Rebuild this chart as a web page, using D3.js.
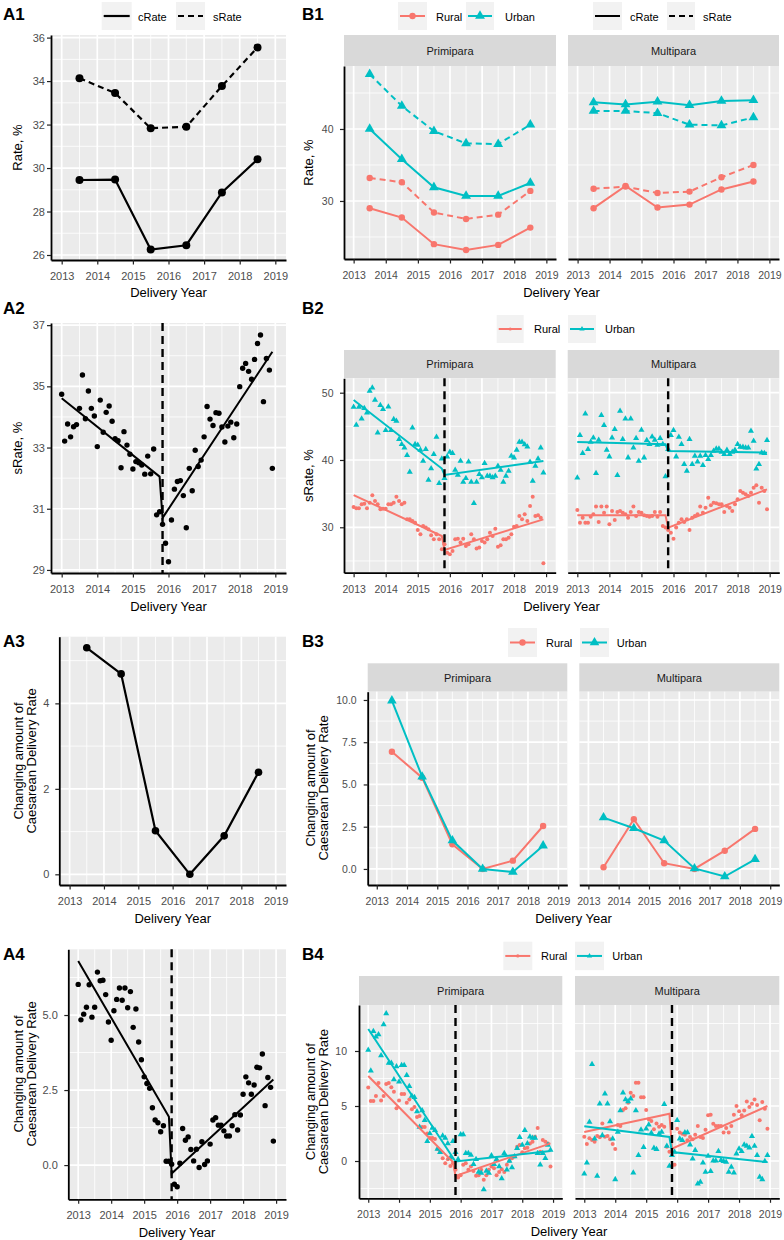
<!DOCTYPE html>
<html><head><meta charset="utf-8">
<script src="https://cdn.jsdelivr.net/npm/d3@7"></script>
<style>body{margin:0;background:#fff;} svg{display:block;}</style>
</head><body><svg id="c" width="784" height="1240"></svg>
<script>
// ---------------- DATA ----------------
const xTickYears = [2013, 2014, 2015, 2016, 2017, 2018, 2019];
const xMinorYears = [2013.5, 2014.5, 2015.5, 2016.5, 2017.5, 2018.5];
const annualYears = [2013.5, 2014.5, 2015.5, 2016.5, 2017.5, 2018.5];
const monthTimes = d3.range(72).map(i => 2013 + i / 12);   // Jan 2013 .. Dec 2018
const policyBreak = 2015.833;
const fitTimes = [2013.0, 2015.75, 2015.833, 2018.917];     // segment start, pre end, post start, end

// A1
const a1_cRate = [29.45, 29.47, 26.25, 26.45, 28.88, 30.40];
const a1_sRate = [34.13, 33.45, 31.83, 31.90, 33.77, 35.55];
// B1
const b1_prim_rural_c = [29.0, 27.7, 24.0, 23.2, 23.9, 26.3];
const b1_prim_rural_s = [33.2, 32.6, 28.4, 27.5, 28.1, 31.4];
const b1_prim_urban_c = [40.0, 35.8, 31.9, 30.7, 30.7, 32.5];
const b1_prim_urban_s = [47.6, 43.2, 39.7, 38.0, 37.9, 40.6];
const b1_multi_rural_c = [29.0, 32.1, 29.1, 29.5, 31.6, 32.7];
const b1_multi_rural_s = [31.7, 32.0, 31.1, 31.3, 33.3, 35.0];
const b1_multi_urban_c = [43.7, 43.4, 43.8, 43.3, 43.9, 44.0];
const b1_multi_urban_s = [42.5, 42.5, 42.2, 40.6, 40.5, 41.6];
// A2 (monthly sRate)
const a2_sRate = [34.74, 33.21, 33.77, 33.35, 33.68, 33.75, 34.28, 35.37, 33.94, 34.85, 34.28, 34.03,
  33.03, 34.55, 33.50, 34.15, 34.36, 33.86, 33.29, 33.22, 32.34, 33.52, 33.08, 32.78,
  32.30, 32.54, 32.50, 32.43, 32.13, 32.72, 32.14, 32.95, 30.80, 30.90, 30.49, 29.87,
  29.27, 30.63, 31.64, 31.89, 31.92, 31.43, 30.38, 32.32, 31.59, 32.91, 32.38, 32.59,
  33.35, 34.34, 33.93, 33.72, 34.14, 34.12, 33.67, 33.18, 33.70, 33.83, 33.32, 33.77,
  34.99, 35.59, 35.75, 35.49, 35.23, 35.88, 36.40, 36.68, 34.50, 35.91, 35.53, 32.32];
const a2_fit = [34.61, 32.05, 30.70, 36.13];
// B2
const b2_prim_urban = [47.88, 45.20, 47.88, 46.14, 47.68, 47.03, 50.25, 50.75, 48.92, 44.06, 48.12, 47.53,
  44.41, 47.92, 44.41, 46.04, 45.80, 43.07, 42.33, 41.83, 40.69, 38.21, 44.80, 42.33,
  42.23, 41.49, 39.85, 41.58, 37.03, 38.73, 40.84, 43.42, 36.53, 40.20, 37.28, 40.50,
  41.19, 41.00, 38.52, 37.77, 39.85, 36.73, 37.28, 39.75, 36.73, 33.56, 36.73, 37.87,
  37.38, 39.50, 37.62, 37.62, 37.38, 37.62, 39.11, 38.52, 36.73, 37.62, 38.36, 40.59,
  40.35, 41.49, 42.67, 42.67, 42.30, 41.98, 39.70, 36.88, 39.10, 40.20, 41.83, 38.12];
const b2_prim_rural = [33.02, 32.82, 32.82, 33.41, 33.51, 32.82, 33.66, 34.75, 33.91, 33.41, 32.67, 32.77,
  32.77, 33.41, 33.41, 33.66, 34.55, 33.91, 33.41, 33.66, 31.18, 31.18, 30.94, 30.69,
  29.60, 28.96, 30.19, 29.95, 29.70, 28.81, 28.21, 28.96, 28.21, 26.73, 27.47, 26.23,
  25.98, 26.48, 28.21, 28.31, 27.72, 28.31, 27.22, 27.47, 28.96, 28.21, 26.83, 26.98,
  27.97, 27.72, 28.21, 29.20, 28.71, 29.80, 27.12, 27.32, 28.21, 28.21, 28.46, 28.96,
  30.09, 30.19, 31.68, 31.18, 31.93, 30.94, 33.17, 34.55, 31.68, 31.78, 31.43, 24.65];
const b2_multi_urban = [37.37, 43.67, 40.99, 46.88, 41.59, 42.67, 43.32, 38.02, 42.97, 46.64, 45.15, 41.49,
  40.50, 43.32, 44.56, 37.72, 47.28, 43.07, 46.14, 40.35, 46.14, 41.83, 43.22, 39.85,
  44.46, 40.35, 42.92, 42.33, 43.47, 42.97, 42.23, 43.22, 42.33, 37.53, 41.59, 43.67,
  44.41, 40.50, 43.42, 42.33, 39.36, 38.37, 43.07, 39.36, 40.59, 39.75, 40.59, 39.21,
  40.69, 40.10, 40.69, 41.34, 41.68, 41.68, 41.19, 40.84, 41.49, 40.84, 41.19, 41.49,
  42.33, 41.93, 41.93, 41.83, 41.83, 44.31, 42.82, 38.71, 39.36, 41.09, 41.00, 42.92];
const b2_multi_rural = [32.57, 30.69, 31.43, 30.69, 30.69, 31.58, 31.93, 33.07, 30.79, 33.07, 32.17, 33.07,
  30.44, 32.42, 31.09, 32.27, 32.42, 32.17, 31.93, 31.43, 32.27, 33.07, 31.68, 32.27,
  32.17, 31.78, 31.68, 31.58, 31.68, 32.27, 31.58, 32.27, 30.19, 29.95, 29.60, 29.20,
  28.31, 29.95, 30.69, 31.18, 30.79, 31.18, 29.60, 31.43, 31.68, 31.93, 33.07, 32.17,
  32.92, 34.40, 33.26, 33.66, 33.56, 33.41, 33.41, 32.27, 33.17, 32.92, 32.42, 33.41,
  34.16, 35.40, 35.15, 34.90, 34.65, 35.15, 35.89, 36.24, 33.66, 35.89, 35.40, 32.67];
const b2_prim_rural_fit = [34.79, 28.70, 26.63, 31.18];
const b2_prim_urban_fit = [48.92, 38.73, 37.77, 39.85];
const b2_multi_rural_fit = [31.78, 31.78, 29.95, 35.64];
const b2_multi_urban_fit = [42.67, 42.33, 41.34, 41.09];
// A3
const a3_change = [5.30, 4.69, 1.02, 0.00, 0.90, 2.39];
// B3
const b3_prim_rural = [6.94, 5.40, 1.46, 0.00, 0.49, 2.54];
const b3_prim_urban = [9.96, 5.46, 1.68, 0.00, -0.18, 1.38];
const b3_multi_rural = [0.10, 2.94, 0.34, 0.00, 1.08, 2.37];
const b3_multi_urban = [3.04, 2.41, 1.68, 0.03, -0.45, 0.57];
// A4 (monthly change)
const a4_change = [6.02, 4.84, 5.03, 5.26, 6.01, 4.93, 5.26, 6.43, 6.14, 6.16, 5.68, 4.77,
  4.16, 5.14, 5.52, 5.90, 5.49, 5.90, 5.24, 5.78, 4.59, 5.20, 4.10, 3.51,
  2.94, 2.72, 2.56, 1.91, 1.50, 1.41, 1.11, 1.31, 0.13, 0.13, 0.03, -0.64,
  -0.72, 0.06, 1.22, 0.83, 0.94, 0.52, 0.14, 0.53, -0.08, 0.78, 0.02, 0.14,
  0.70, 1.50, 1.58, 1.33, 1.33, 1.14, 0.97, 0.97, 1.31, 1.68, 1.17, 1.67,
  2.36, 2.94, 2.74, 2.36, 2.67, 3.26, 3.24, 3.70, 1.98, 2.92, 2.59, 0.80];
const a4_fit = [6.80, 1.61, -0.28, 2.85];
// B4
const b4_prim_urban = [10.1, 8.2, 11.8, 11.3, 11.5, 9.6, 12.4, 13.4, 8.9, 8.9, 7.4, 8.6,
  7.2, 8.7, 8.7, 7.8, 6.8, 5.9, 5.8, 4.5, 3.1, 4.6, 3.7, 1.8,
  2.5, 3.0, 2.8, 1.1, 0.8, 2.3, 2.1, 1.6, 0.3, 1.8, 0.8, 0.15,
  2.4, 2.4, 0.7, 0.7, 0.55, -0.3, 0.15, -1.0, -1.1, -2.6, -0.9, -1.1,
  0.5, -0.3, 0.15, -0.5, -1.6, 0.7, -0.8, 0.0, -0.6, 0.4, 1.15, 2.15,
  1.45, 2.8, 1.6, 2.2, 2.1, 2.1, 0.7, -0.35, 0.7, 0.25, 1.45, 1.0];
const b4_prim_rural = [6.67, 5.45, 5.45, 5.9, 7.1, 5.5, 5.9, 7.0, 7.1, 6.7, 6.3, 4.8,
  5.5, 6.1, 6.1, 5.3, 5.6, 4.7, 4.9, 4.0, 4.1, 3.1, 3.1, 2.5,
  2.1, 2.1, 2.0, 1.1, 0.85, 0.25, -0.2, 0.15, -0.45, -0.2, -0.8, -1.5,
  -1.3, -0.35, -0.2, -0.8, -0.5, -0.9, -1.35, -1.3, -0.8, -1.7, -1.3, -0.8,
  -0.5, -0.65, -1.3, -1.0, -0.75, -1.0, -0.35, 0.0, 0.25, 0.4, 1.3, 1.45,
  0.8, 1.15, 1.2, 1.6, 1.75, 2.2, 3.0, 0.85, 1.9, 1.75, 1.6, -0.5];
const b4_multi_urban = [-1.15, -0.15, 3.55, 8.79, 2.03, -1.36, 5.21, 2.33, 6.12, 5.21, 3.6, 2.03,
  -1.67, 2.64, 4.6, 6.21, 5.6, 5.42, 5.67, -1.06, 4.6, 0.52, 2.85, 1.24,
  2.94, 3.3, 2.55, 1.18, 1.06, 2.48, 2.64, 5.15, 1.36, -0.45, 0.52, 0.82,
  3.7, 2.03, 1.88, 2.58, 2.58, 1.48, 0.21, 0.97, -2.06, -1.91, -0.15, -1.0,
  0.45, -0.94, 0.03, 0.03, 0.88, 0.06, -0.03, -0.09, -1.0, -0.55, -1.06, 0.67,
  1.12, 0.88, 1.48, 1.36, 1.2, 2.24, 1.36, 0.52, -1.45, -1.67, -0.03, 0.52];
const b4_multi_rural = [2.2, 1.55, 2.06, 1.9, 1.76, 2.27, 2.15, 3.42, 2.2, 2.27, 1.97, 1.55,
  1.09, 3.27, 3.18, 4.64, 4.79, 5.3, 6.21, 5.9, 7.12, 7.12, 5.79, 5.79,
  4.64, 3.79, 3.64, 2.88, 3.42, 3.12, 3.27, 3.12, 1.3, 0.85, -0.45, -0.33,
  2.94, 2.58, 2.48, 2.39, 1.88, 2.18, 1.97, 2.39, 3.18, 2.18, 2.09, 2.85,
  4.15, 4.21, 3.39, 3.18, 3.18, 3.18, 2.58, 3.0, 2.58, 3.18, 4.21, 5.0,
  4.52, 4.15, 4.6, 5.42, 4.91, 5.2, 5.6, 5.1, 3.7, 5.36, 4.76, 2.94];
const b4_prim_rural_fit = [7.73, -0.10, -1.36, 1.60];
const b4_prim_urban_fit = [12.00, 0.30, -0.05, 0.90];
const b4_multi_rural_fit = [2.64, 4.30, 1.12, 5.00];
const b4_multi_urban_fit = [3.15, 2.18, 0.82, -0.09];

// ---------------- DRAWING ----------------
const FONT = '"Liberation Sans", Arial, Helvetica, sans-serif';
const RURAL = '#F8766D', URBAN = '#00BFC4';
const svg = d3.select('#c').attr('font-family', FONT);

function panel(cfg) {
  const x = d3.scaleLinear().domain([2012.7, 2019.3]).range([cfg.x0, cfg.x1]);
  const y = d3.scaleLinear().domain(cfg.yDom).range([cfg.y1, cfg.y0]);
  const g = svg.append('g');
  g.append('rect').attr('x', cfg.x0).attr('y', cfg.y0).attr('width', cfg.x1 - cfg.x0)
    .attr('height', cfg.y1 - cfg.y0).attr('fill', '#EBEBEB');
  const grid = g.append('g').attr('stroke', '#fff');
  grid.selectAll(null).data(cfg.yMinor).join('line').attr('x1', cfg.x0).attr('x2', cfg.x1)
    .attr('y1', d => y(d)).attr('y2', d => y(d)).attr('stroke-width', 0.8);
  grid.selectAll(null).data(xMinorYears).join('line').attr('y1', cfg.y0).attr('y2', cfg.y1)
    .attr('x1', d => x(d)).attr('x2', d => x(d)).attr('stroke-width', 0.8);
  grid.selectAll(null).data(cfg.yMajor).join('line').attr('x1', cfg.x0).attr('x2', cfg.x1)
    .attr('y1', d => y(d)).attr('y2', d => y(d)).attr('stroke-width', 1.7);
  grid.selectAll(null).data(xTickYears).join('line').attr('y1', cfg.y0).attr('y2', cfg.y1)
    .attr('x1', d => x(d)).attr('x2', d => x(d)).attr('stroke-width', 1.7);
  const fs = cfg.fs || 11;
  const xa = d3.axisBottom(x).tickValues(xTickYears).tickFormat(d3.format('d'))
    .tickSizeInner(4.5).tickSizeOuter(0).tickPadding(20 - 4.5 - 0.71 * fs);
  const gx = g.append('g').attr('transform', `translate(0,${cfg.y1})`).call(xa);
  styleAxis(gx, fs);
  if (cfg.yAxis) {
    const ya = d3.axisLeft(y).tickValues(cfg.yMajor).tickFormat(cfg.yFmt || d3.format('d'))
      .tickSizeInner(4).tickSizeOuter(0).tickPadding((cfg.labGap || 10) - 4);
    const gy = g.append('g').attr('transform', `translate(${cfg.x0},0)`).call(ya);
    styleAxis(gy, fs);
  }
  return { x, y, g, cfg };
}
function styleAxis(sel, fs) {
  sel.attr('font-family', FONT).attr('font-size', fs);
  sel.select('.domain').attr('stroke', '#000').attr('stroke-width', 1.8);
  sel.selectAll('.tick line').attr('stroke', '#222').attr('stroke-width', 1.2);
  sel.selectAll('.tick text').attr('fill', '#4D4D4D');
}
function strip(x0, x1, y0, y1, label) {
  svg.append('rect').attr('x', x0).attr('y', y0).attr('width', x1 - x0).attr('height', y1 - y0).attr('fill', '#D9D9D9');
  svg.append('text').attr('x', (x0 + x1) / 2).attr('y', (y0 + y1) / 2 + 4).attr('text-anchor', 'middle')
    .attr('font-size', 11).attr('fill', '#1A1A1A').text(label);
}
function label(x, y, t) {
  svg.append('text').attr('x', x).attr('y', y).attr('font-size', 17).attr('font-weight', 'bold').attr('fill', '#000').text(t);
}
function xTitle(x, y, t) {
  svg.append('text').attr('x', x).attr('y', y).attr('text-anchor', 'middle').attr('font-size', 13).attr('fill', '#000').text(t);
}
function yTitle(x, y, lines) {
  lines.forEach((t, i) => {
    svg.append('text').attr('transform', `translate(${x + i * 13.4},${y}) rotate(-90)`)
      .attr('text-anchor', 'middle').attr('dominant-baseline', 'central').attr('font-size', 13).attr('fill', '#000').text(t);
  });
}
function triangle(size) { return d3.symbol().type(d3.symbolTriangle).size(size)(); }

function drawAnnual(p, vals, color, dash, shape, size, w) {
  const line = d3.line().x((d, i) => p.x(annualYears[i])).y(d => p.y(d));
  p.g.append('path').attr('d', line(vals)).attr('fill', 'none').attr('stroke', color)
    .attr('stroke-width', w).attr('stroke-dasharray', dash || null);
  drawPoints(p, vals, annualYears, color, shape, size);
}
function drawPoints(p, vals, times, color, shape, size) {
  const gg = p.g.append('g').attr('fill', color);
  if (shape === 'triangle') {
    gg.selectAll('path').data(vals).join('path')
      .attr('transform', (d, i) => `translate(${p.x(times[i])},${p.y(d)})`).attr('d', triangle(size));
  } else {
    gg.selectAll('circle').data(vals).join('circle')
      .attr('cx', (d, i) => p.x(times[i])).attr('cy', d => p.y(d)).attr('r', size);
  }
}
function drawFit(p, vals, color, w) {
  const line = d3.line().x((d, i) => p.x(fitTimes[i])).y(d => p.y(d));
  p.g.append('path').attr('d', line(vals)).attr('fill', 'none').attr('stroke', color).attr('stroke-width', w);
}
function drawVline(p) {
  p.g.append('line').attr('x1', p.x(policyBreak)).attr('x2', p.x(policyBreak))
    .attr('y1', p.cfg.y0).attr('y2', p.cfg.y1).attr('stroke', '#000').attr('stroke-width', 2.4).attr('stroke-dasharray', '8,5');
}
function legendKey(x, y, w, h, color, dash, shape, size, lw) {
  svg.append('rect').attr('x', x).attr('y', y).attr('width', w).attr('height', h).attr('fill', '#F2F2F2');
  svg.append('line').attr('x1', x + 2).attr('x2', x + w - 2).attr('y1', y + h / 2).attr('y2', y + h / 2)
    .attr('stroke', color).attr('stroke-width', lw).attr('stroke-dasharray', dash || null);
  if (shape === 'circle') svg.append('circle').attr('cx', x + w / 2).attr('cy', y + h / 2).attr('r', size).attr('fill', color);
  if (shape === 'triangle') svg.append('path').attr('transform', `translate(${x + w / 2},${y + h / 2})`).attr('d', triangle(size)).attr('fill', color);
}
function legendText(x, y, t) {
  svg.append('text').attr('x', x).attr('y', y + 4).attr('font-size', 11).attr('fill', '#000').text(t);
}

// ===== Row 1 =====
label(3, 20, 'A1'); label(302, 20, 'B1');
legendKey(101.7, 2, 30, 28, '#000', null, null, 0, 2.2); legendText(138, 16.7, 'cRate');
legendKey(176, 2, 29, 28, '#000', '6,4', null, 0, 2.2); legendText(213, 16.7, 'sRate');
const pA1 = panel({ x0: 51, x1: 286, y0: 35, y1: 260, yDom: [25.77, 36.12], yMajor: [26, 28, 30, 32, 34, 36],
  yMinor: [27, 29, 31, 33, 35], yAxis: true, labGap: 6 });
drawAnnual(pA1, a1_cRate, '#000', null, 'circle', 4, 2.2);
drawAnnual(pA1, a1_sRate, '#000', '6,4', 'circle', 4, 2.2);
yTitle(17, 147.5, ['Rate, %']);
xTitle(168.5, 297, 'Delivery Year');

legendKey(398, 2, 29, 28, RURAL, null, 'circle', 3.2, 2); legendText(436, 16.7, 'Rural');
legendKey(466, 2, 28, 28, URBAN, null, 'triangle', 42, 2); legendText(505, 16.7, 'Urban');
legendKey(593, 2, 29, 28, '#000', null, null, 0, 2); legendText(630, 16.7, 'cRate');
legendKey(667, 2, 28, 28, '#000', '6,4', null, 0, 2); legendText(703, 16.7, 'sRate');
strip(344, 556, 35, 66, 'Primipara'); strip(568, 779, 35, 66, 'Multipara');
const b1cfg = { y0: 66, y1: 259, yDom: [21.94, 48.75], yMajor: [30, 40], yMinor: [25, 35, 45], fs: 10.5 };
const pB1a = panel(Object.assign({ x0: 344, x1: 556, yAxis: true, labGap: 10.5 }, b1cfg));
const pB1b = panel(Object.assign({ x0: 568, x1: 779, yAxis: false }, b1cfg));
drawAnnual(pB1a, b1_prim_rural_c, RURAL, null, 'circle', 3.2, 2);
drawAnnual(pB1a, b1_prim_rural_s, RURAL, '6,4', 'circle', 3.2, 2);
drawAnnual(pB1a, b1_prim_urban_c, URBAN, null, 'triangle', 42, 2);
drawAnnual(pB1a, b1_prim_urban_s, URBAN, '6,4', 'triangle', 42, 2);
drawAnnual(pB1b, b1_multi_rural_c, RURAL, null, 'circle', 3.2, 2);
drawAnnual(pB1b, b1_multi_rural_s, RURAL, '6,4', 'circle', 3.2, 2);
drawAnnual(pB1b, b1_multi_urban_c, URBAN, null, 'triangle', 42, 2);
drawAnnual(pB1b, b1_multi_urban_s, URBAN, '6,4', 'triangle', 42, 2);
yTitle(308, 162.5, ['Rate, %']);
xTitle(561.5, 297, 'Delivery Year');

// ===== Row 2 =====
label(3, 313.5, 'A2'); label(302, 313.5, 'B2');
const pA2 = panel({ x0: 51, x1: 286, y0: 323, y1: 573, yDom: [28.90, 37.07], yMajor: [29, 31, 33, 35, 37],
  yMinor: [30, 32, 34, 36], yAxis: true, labGap: 6 });
drawPoints(pA2, a2_sRate, monthTimes, '#000', 'circle', 2.7);
drawFit(pA2, a2_fit, '#000', 2);
drawVline(pA2);
yTitle(17, 448, ['sRate, %']);
xTitle(168.5, 610.5, 'Delivery Year');

legendKey(496.7, 315, 27, 28, RURAL, null, 'circle', 1.6, 2); legendText(534, 329.3, 'Rural');
legendKey(568, 315, 28, 28, URBAN, null, 'triangle', 12, 2); legendText(605, 329.3, 'Urban');
strip(344, 555.7, 350, 378.3, 'Primipara'); strip(567.7, 779.3, 350, 378.3, 'Multipara');
const b2cfg = { y0: 378.3, y1: 572.7, yDom: [23.25, 52.14], yMajor: [30, 40, 50], yMinor: [25, 35, 45], fs: 10.5 };
const pB2a = panel(Object.assign({ x0: 344, x1: 555.7, yAxis: true, labGap: 10.5 }, b2cfg));
const pB2b = panel(Object.assign({ x0: 567.7, x1: 779.3, yAxis: false }, b2cfg));
drawPoints(pB2a, b2_prim_rural, monthTimes, RURAL, 'circle', 2);
drawPoints(pB2a, b2_prim_urban, monthTimes, URBAN, 'triangle', 16);
drawFit(pB2a, b2_prim_rural_fit, RURAL, 2);
drawFit(pB2a, b2_prim_urban_fit, URBAN, 2);
drawVline(pB2a);
drawPoints(pB2b, b2_multi_rural, monthTimes, RURAL, 'circle', 2);
drawPoints(pB2b, b2_multi_urban, monthTimes, URBAN, 'triangle', 16);
drawFit(pB2b, b2_multi_rural_fit, RURAL, 2);
drawFit(pB2b, b2_multi_urban_fit, URBAN, 2);
drawVline(pB2b);
yTitle(308, 475.5, ['sRate, %']);
xTitle(561.5, 610.5, 'Delivery Year');

// ===== Row 3 =====
label(3, 647, 'A3'); label(302, 647, 'B3');
const pA3 = panel({ x0: 59.3, x1: 286, y0: 636.7, y1: 885, yDom: [-0.25, 5.56], yMajor: [0, 2, 4],
  yMinor: [1, 3, 5], yAxis: true, labGap: 10 });
drawAnnual(pA3, a3_change, '#000', null, 'circle', 3.8, 2.2);
yTitle(18.3, 761, ['Changing amount of', 'Caesarean Delivery Rate']);
xTitle(172.7, 923, 'Delivery Year');

legendKey(508, 628, 29, 29, RURAL, null, 'circle', 3.2, 2); legendText(546, 642.7, 'Rural');
legendKey(580, 628, 29, 29, URBAN, null, 'triangle', 40, 2); legendText(616.7, 642.7, 'Urban');
strip(367.7, 567.3, 663.3, 691.7, 'Primipara'); strip(579.3, 779.3, 663.3, 691.7, 'Multipara');
const b3cfg = { y0: 691.7, y1: 885, yDom: [-0.95, 10.49], yMajor: [0, 2.5, 5, 7.5, 10], yMinor: [1.25, 3.75, 6.25, 8.75],
  yFmt: d3.format('.1f'), fs: 10.5 };
const pB3a = panel(Object.assign({ x0: 367.7, x1: 567.3, yAxis: true, labGap: 11 }, b3cfg));
const pB3b = panel(Object.assign({ x0: 579.3, x1: 779.3, yAxis: false }, b3cfg));
drawAnnual(pB3a, b3_prim_rural, RURAL, null, 'circle', 3.2, 2);
drawAnnual(pB3a, b3_prim_urban, URBAN, null, 'triangle', 40, 2);
drawAnnual(pB3b, b3_multi_rural, RURAL, null, 'circle', 3.2, 2);
drawAnnual(pB3b, b3_multi_urban, URBAN, null, 'triangle', 40, 2);
yTitle(310, 788, ['Changing amount of', 'Caesarean Delivery Rate']);
xTitle(573.5, 923, 'Delivery Year');

// ===== Row 4 =====
label(3, 960, 'A4'); label(302, 960, 'B4');
const pA4 = panel({ x0: 68.3, x1: 286, y0: 949.3, y1: 1199.3, yDom: [-1.14, 7.19], yMajor: [0, 2.5, 5],
  yMinor: [1.25, 3.75, 6.25], yFmt: d3.format('.1f'), yAxis: true, labGap: 10.5 });
drawPoints(pA4, a4_change, monthTimes, '#000', 'circle', 2.7);
drawFit(pA4, a4_fit, '#000', 2);
drawVline(pA4);
yTitle(18.3, 1074, ['Changing amount of', 'Caesarean Delivery Rate']);
xTitle(177, 1237, 'Delivery Year');

legendKey(503.3, 941.7, 29, 28.5, RURAL, null, 'circle', 1.6, 2); legendText(541, 955.7, 'Rural');
legendKey(575, 941.7, 29, 28.5, URBAN, null, 'triangle', 12, 2); legendText(612.3, 955.7, 'Urban');
strip(359, 562.3, 976, 1005, 'Primipara'); strip(575, 779.3, 976, 1005, 'Multipara');
const b4cfg = { y0: 1005, y1: 1198.3, yDom: [-3.39, 14.18], yMajor: [0, 5, 10], yMinor: [-2.5, 2.5, 7.5, 12.5], fs: 10.5 };
const pB4a = panel(Object.assign({ x0: 359, x1: 562.3, yAxis: true, labGap: 12 }, b4cfg));
const pB4b = panel(Object.assign({ x0: 575, x1: 779.3, yAxis: false }, b4cfg));
drawPoints(pB4a, b4_prim_rural, monthTimes, RURAL, 'circle', 2);
drawPoints(pB4a, b4_prim_urban, monthTimes, URBAN, 'triangle', 16);
drawFit(pB4a, b4_prim_rural_fit, RURAL, 2);
drawFit(pB4a, b4_prim_urban_fit, URBAN, 2);
drawVline(pB4a);
drawPoints(pB4b, b4_multi_rural, monthTimes, RURAL, 'circle', 2);
drawPoints(pB4b, b4_multi_urban, monthTimes, URBAN, 'triangle', 16);
drawFit(pB4b, b4_multi_rural_fit, RURAL, 2);
drawFit(pB4b, b4_multi_urban_fit, URBAN, 2);
drawVline(pB4b);
yTitle(310, 1101.7, ['Changing amount of', 'Caesarean Delivery Rate']);
xTitle(569, 1236, 'Delivery Year');
</script></body></html>
